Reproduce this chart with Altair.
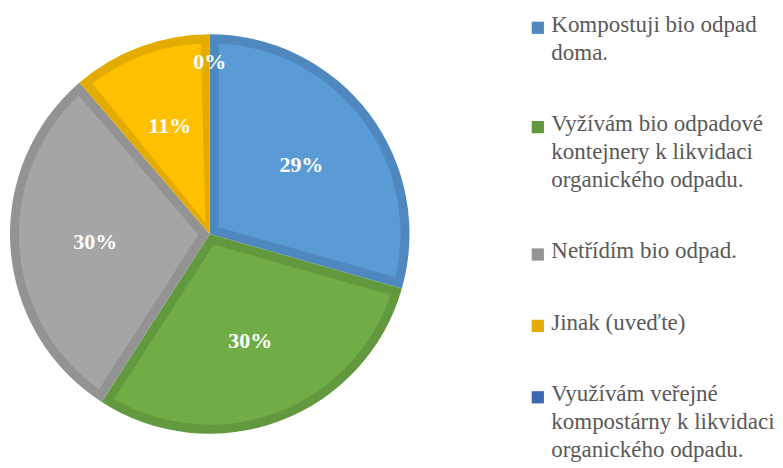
import altair as alt
import pandas as pd

categories = [
    "Kompostuji bio odpad\ndoma.",
    "Vyžívám bio odpadové\nkontejnery k likvidaci\norganického odpadu.",
    "Netřídím bio odpad.",
    "Jinak (uveďte)",
    "Využívám veřejné\nkompostárny k likvidaci\norganického odpadu.",
]
shares = [29.4, 29.7, 29.6, 11.3, 0.0]
fill_colors = ["#5B9BD5", "#70AD47", "#A5A5A5", "#FFC000", "#4472C4"]
edge_colors = ["#4F88BF", "#63993E", "#939393", "#E4AC00", "#3D67B1"]

SERIF = "Liberation Serif"

df = pd.DataFrame({"cat": categories, "share": shares, "idx": list(range(len(categories)))})

base = alt.Chart(df).encode(
    theta=alt.Theta("share:Q", stack=True),
    order=alt.Order("idx:Q", sort="ascending"),
)

edge = base.transform_filter("datum.share > 0").mark_arc(
    outerRadius=200, innerRadius=0
).encode(
    color=alt.Color(
        "cat:N",
        sort=categories,
        scale=alt.Scale(domain=categories, range=edge_colors),
        legend=alt.Legend(
            title=None,
            orient="none",
            legendX=519,
            legendY=8,
            padding=0,
            symbolType="square",
            symbolSize=150,
            symbolStrokeWidth=0,
            labelFont=SERIF,
            labelFontSize=23,
            labelColor="#595959",
            labelExpr="split(datum.label, '\\n')",
            labelLimit=400,
            labelOffset=2,
            labelBaseline="top",
            rowPadding=47.5,
        ),
    )
)

face = base.transform_filter("datum.share > 0").mark_arc(
    outerRadius=191, innerRadius=12, padAngle=0.0946
).encode(
    color=alt.Color(
        "cat:N",
        sort=categories,
        scale=alt.Scale(domain=categories, range=fill_colors),
        legend=None,
    )
)

labels = base.transform_calculate(
    lbl="format(datum.share, '.0f') + '%'",
    r="datum.share < 0.5 ? 172 : 115",
).mark_text(
    font=SERIF, fontSize=22, fontWeight="bold", color="white"
).encode(
    text="lbl:N",
    radius=alt.Radius("r:Q", scale=None),
)

chart = (
    alt.layer(edge, face, labels)
    .resolve_scale(color="independent")
    .properties(width=404, height=452, padding=0)
    .configure_view(stroke=None)
    .configure(style={"guide-label": {"lineHeight": 28, "dy": -14}})
)

chart.save("out.html", embed_options={"renderer": "svg", "actions": False})
